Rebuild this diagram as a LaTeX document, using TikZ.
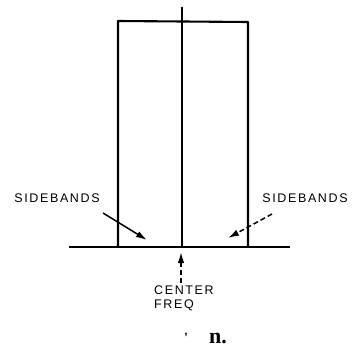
\documentclass[tikz,border=0pt]{standalone}
\usepackage{fontspec}
\setmainfont{Liberation Sans}
\newfontfamily\labfont[LetterSpace=13]{Liberation Sans}
\newfontfamily\serfont{Liberation Serif}
\usetikzlibrary{arrows.meta}
\begin{document}
\begin{tikzpicture}[x=1pt,y=-1pt,
  ln/.style={line width=2.1pt},
  lab/.style={font=\labfont\fontsize{12.5}{13}\selectfont, inner sep=0pt},
  arr/.style={line width=1.5pt,-{Latex[length=11pt,width=6.5pt]}},
  darr/.style={arr,dash pattern=on 5pt off 3pt}]
\useasboundingbox (0,0) rectangle (353,353);
% axis and box
\coordinate (bl) at (69,247);
\coordinate (br) at (290,247);
\draw[ln] (bl) -- (br);
\coordinate (b1) at (118,247);
\coordinate (b2) at (248,247);
\coordinate (t1) at (118,21);
\coordinate (t2) at (248,22);
\draw[ln,line join=round] (b1) -- (t1) -- (t2) -- (b2);
\coordinate (ctop) at (182,7);
\coordinate (cbot) at (182,247);
\draw[ln] (ctop) -- (cbot);
% labels
\node[lab] (sbl) at (57,198) {SIDEBANDS};
\node[lab] (sbr) at (305,198) {SIDEBANDS};
\node[lab,align=left,anchor=north west] (cf) at (154,286) {CENTER\\[1pt]FREQ};
\node[font=\bfseries\fontsize{12}{12}\selectfont,inner sep=0pt] (ap) at (186,337) {'};
\node[font=\serfont\bfseries\fontsize{22}{22}\selectfont,inner sep=0pt] (nn) at (218,338) {n.};
% arrows
\coordinate (la0) at (103,213);
\coordinate (la1) at (147,240);
\draw[arr] (la0) -- (la1);
\coordinate (ra0) at (272,214);
\coordinate (ra1) at (228,238);
\draw[darr] (ra0) -- (ra1);
\coordinate (ca0) at (181,283);
\coordinate (ca1) at (181,252);
\draw[darr] (ca0) -- (ca1);
\end{tikzpicture}
\end{document}
